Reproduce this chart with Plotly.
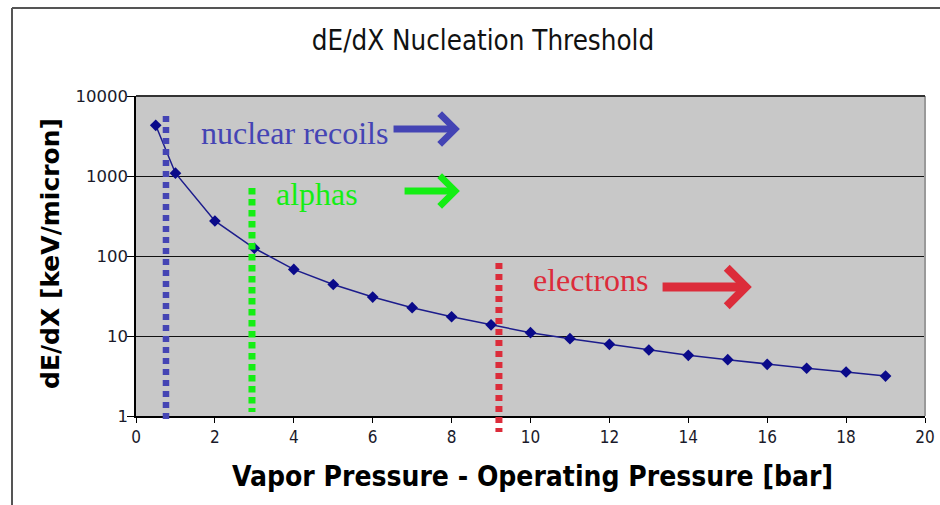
import plotly.graph_objects as go

# Nucleation threshold curve
pressure = [0.5, 1, 2, 3, 4, 5, 6, 7, 8, 9, 10, 11, 12, 13, 14, 15, 16, 17, 18, 19]
dedx = [4300, 1085, 274, 125, 68, 44, 30.7, 22.6, 17.4, 13.8, 11.0, 9.25, 7.87,
        6.68, 5.73, 5.06, 4.43, 3.95, 3.55, 3.16]

# Particle-type thresholds (pressure, bar)
species = ["nuclear recoils", "alphas", "electrons"]
threshold_x = [0.76, 2.94, 9.2]
species_colors = ["#4444b4", "#14ee14", "#dc2c3a"]

x_ticks = list(range(0, 21, 2))
y_ticks = [1, 10, 100, 1000, 10000]

# plot-area geometry (pixels)
W, H = 940, 505
L, R, T, B = 136, 15, 96, 89
pw, ph = W - L - R, H - T - B


def px_x(p):
    return (p - L) / pw


def px_y(p):
    return (H - B - p) / ph


fig = go.Figure()

fig.add_trace(go.Scatter(
    x=pressure, y=dedx, mode="lines+markers",
    line=dict(color="#1c1c8c", width=1.5),
    marker=dict(symbol="diamond", size=9, color="#0a0a8a"),
    showlegend=False, cliponaxis=False,
))

shapes = []
# dotted threshold markers
dot_specs = [
    dict(top=116, bot=420, width=6.5, dash="6px,5px"),
    dict(top=188, bot=412, width=7, dash="6.5px,4.5px"),
    dict(top=263, bot=432, width=7, dash="6px,5px"),
]
for xv, col, d in zip(threshold_x, species_colors, dot_specs):
    shapes.append(dict(type="line", xref="x", yref="paper", x0=xv, x1=xv,
                       y0=px_y(d["top"]), y1=px_y(d["bot"]),
                       line=dict(color=col, width=d["width"], dash=d["dash"]),
                       layer="above"))

# plot-area right border
shapes.append(dict(type="line", xref="paper", yref="paper", x0=1, x1=1, y0=0, y1=1,
                   line=dict(color="#9a9a9a", width=2)))
# top edge of plot area
shapes.append(dict(type="line", xref="paper", yref="paper", x0=0, x1=1, y0=1, y1=1,
                   line=dict(color="#333333", width=2)))
# chart frame
shapes.append(dict(type="line", xref="paper", yref="paper",
                   x0=px_x(12), x1=px_x(W), y0=px_y(8), y1=px_y(8),
                   line=dict(color="#555555", width=2)))
shapes.append(dict(type="line", xref="paper", yref="paper",
                   x0=px_x(12), x1=px_x(12), y0=px_y(8), y1=px_y(H),
                   line=dict(color="#555555", width=2)))

annotations = []
serif = "Liberation Serif, Times New Roman, serif"
label_pos = [(4.03, 3.54), (4.6, 2.77), (11.54, 1.70)]
for name, col, (lx, ly) in zip(species, species_colors, label_pos):
    annotations.append(dict(x=lx, y=ly, xref="x", yref="y", text=name,
                            xanchor="center", yanchor="middle",
                            showarrow=False, font=dict(family=serif, size=32, color=col)))

# direction arrows
arrow_specs = [
    (6.49, 8.21, 3.5875, 7, 0.85),
    (6.77, 8.21, 2.8125, 7, 0.85),
    (13.31, 15.61, 1.6125, 9, 0.82),
]
for col, (x0, x1, yl, w, s) in zip(species_colors, arrow_specs):
    annotations.append(dict(x=x1, y=yl, ax=x0, ay=yl, xref="x", yref="y",
                            axref="x", ayref="y", text="", showarrow=True,
                            arrowhead=4, arrowsize=s, arrowwidth=w, arrowcolor=col))

# axis titles
annotations.append(dict(x=px_x(50), y=px_y(254), xref="paper", yref="paper",
                        xanchor="center", yanchor="middle",
                        text="<b>dE/dX [keV/micron]</b>", textangle=-90, showarrow=False,
                        font=dict(family="DejaVu Sans", size=25, color="#000")))
annotations.append(dict(x=px_x(532), y=px_y(476), xref="paper", yref="paper",
                        xanchor="center", yanchor="middle",
                        text="<b>Vapor Pressure - Operating Pressure [bar]</b>",
                        showarrow=False,
                        font=dict(family="DejaVu Sans Condensed, DejaVu Sans", size=28,
                                  color="#000")))

fig.update_layout(
    width=W, height=H,
    margin=dict(l=L, r=R, t=T, b=B, autoexpand=False),
    paper_bgcolor="white", plot_bgcolor="#c8c8c8",
    title=dict(text="dE/dX Nucleation Threshold", x=483 / W, xanchor="center",
               y=1 - 40 / H, yanchor="middle", automargin=False,
               font=dict(family="DejaVu Sans Condensed, DejaVu Sans", size=27.5,
                         color="#111")),
    shapes=shapes, annotations=annotations,
)

fig.update_xaxes(range=[0, 20], tickvals=x_ticks, ticktext=[str(v) for v in x_ticks],
                 automargin=False,
                 showgrid=False, zeroline=False, showline=True, linecolor="#000",
                 linewidth=1.5, ticks="outside", ticklen=5, tickcolor="#000",
                 tickfont=dict(family="DejaVu Sans Condensed, DejaVu Sans", size=17,
                               color="#1a1a2a"))
fig.update_yaxes(type="log", range=[0, 4], tickvals=y_ticks,
                 ticktext=[str(v) for v in y_ticks], automargin=False,
                 showgrid=True, gridcolor="#111", gridwidth=1.2, zeroline=False,
                 showline=True, linecolor="#000", linewidth=1.5, ticks="outside",
                 ticklen=7, tickcolor="#000", ticklabelstandoff=-4,
                 tickfont=dict(family="DejaVu Sans", size=16.5, color="#1a1a2a"))

fig.write_html("out.html")
